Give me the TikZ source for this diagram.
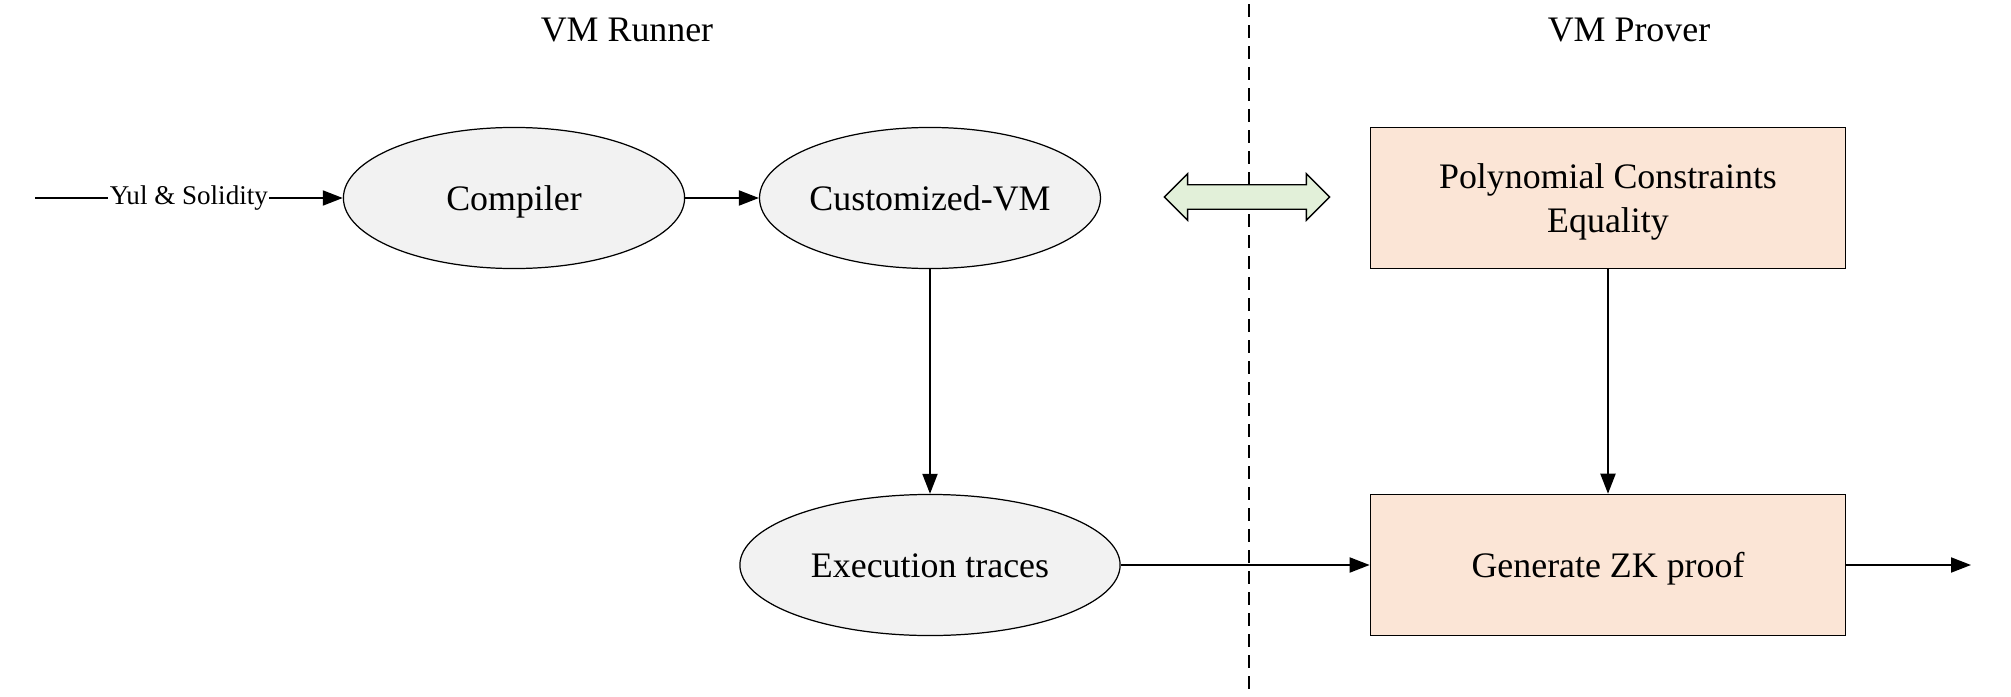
\documentclass[tikz,border=0pt]{standalone}
\usepackage{fontspec}
\setmainfont{Liberation Serif}
\usetikzlibrary{shapes.geometric,shapes.arrows,arrows.meta}

\definecolor{procgrey}{HTML}{F2F2F2}
\definecolor{boxpeach}{HTML}{FBE5D6}
\definecolor{swapgreen}{HTML}{E2F0D9}

\tikzset{
  proc/.style={ellipse,draw,line width=0.35pt,fill=procgrey,minimum width=3.41cm,
    minimum height=1.41cm,inner xsep=0pt,text height=0.69em,text depth=0pt,
    font=\fontsize{10.2}{12}\selectfont},
  prbox/.style={rectangle,draw,line width=0.4pt,fill=boxpeach,minimum width=4.75cm,
    minimum height=1.41cm,align=center,text depth=0pt,font=\fontsize{10.2}{12.6}\selectfont},
  flow/.style={line width=0.55pt,-{Triangle[length=2mm,width=1.5mm]}},
  title/.style={font=\fontsize{10.2}{12}\selectfont}
}

\begin{document}
\begin{tikzpicture}[x=0.01cm,y=-0.01cm]
    \useasboundingbox (0,0) rectangle (2011,697);
    % two halves
    \node[title] (runner) at (627,30) {VM Runner};
    \node[title] (prover) at (1629,30) {VM Prover};
    \coordinate (top) at (1249,4);
    \coordinate (bot) at (1249,690);
    \draw[line width=0.6pt,dash pattern=on 0.13cm off 0.08cm] (top) -- (bot);
    % runner side
    \coordinate (in) at (35,198);
    \node[proc] (comp) at (514,198) {Compiler};
    \node[proc,minimum width=3.40cm] (cvm) at (930,198) {Customized-VM};
    \node[proc,minimum width=3.80cm] (exec) at (930,565) {Execution traces};
    % prover side
    \node[prbox] (poly) at (1608,198) {Polynomial Constraints\\Equality};
    \node[prbox] (zk) at (1608,565) {Generate ZK proof};
    \coordinate (out) at (1971,565);
    \node[double arrow,draw,line width=0.4pt,fill=swapgreen,inner sep=0.115cm,
      minimum height=1.65cm,double arrow head extend=0.11cm,
      double arrow tip angle=90] (swap) at (1247,197) {};
    \draw[flow] (in) -- node[fill=white,inner sep=0.4pt,
      font=\fontsize{7.7}{9}\selectfont] {Yul \& Solidity} (comp);
    \draw[flow] (comp) -- (cvm);
    \draw[flow] (cvm) -- (exec);
    \draw[flow] (exec) -- (zk);
    \draw[flow] (poly) -- (zk);
    \draw[flow] (zk) -- (out);
  \end{tikzpicture}
\end{document}
